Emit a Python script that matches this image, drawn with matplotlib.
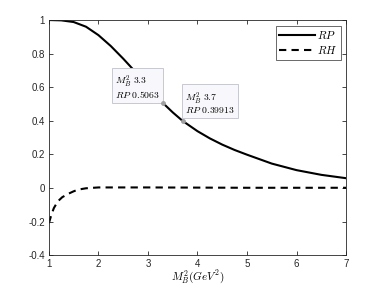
import numpy as np
import matplotlib
matplotlib.use('Agg')
from matplotlib import pyplot as plt

plt.rcParams['font.family'] = ['Liberation Sans', 'DejaVu Sans']
plt.rcParams['mathtext.fontset'] = 'cm'

# values
m2 = [1.0, 1.25, 1.5, 1.75, 2.0, 2.25, 2.5, 2.75, 3.0, 3.3, 3.5, 3.7,
      4.0, 4.25, 4.5, 4.75, 5.0, 5.5, 6.0, 6.5, 7.0]
rp = [1.0, 0.998, 0.988, 0.96, 0.91, 0.845, 0.77, 0.69, 0.605, 0.5063, 0.45, 0.39913,
      0.338, 0.295, 0.258, 0.226, 0.198, 0.145, 0.106, 0.078, 0.058]
m2_rh = [1.0, 1.05, 1.1, 1.18, 1.27, 1.39, 1.5, 1.59, 1.75, 2.0, 3.0, 4.0, 5.0, 6.0, 7.0]
rh = [-0.21, -0.16, -0.12, -0.08, -0.055, -0.035, -0.02, -0.01, -0.002, 0.003, 0.003, 0.002, 0.001, 0.001, 0.001]
tips_x = [3.3, 3.7]
tips_y = [0.5063, 0.39913]

fig = plt.figure(figsize=(3.82, 2.86), dpi=100)
ax = fig.add_axes([0.128, 0.108, 0.778, 0.822])

ax.plot(m2, rp, color='black', lw=1.5, label='$RP$')
ax.plot(m2_rh, rh, color='black', lw=1.5, ls=(0, (3.5, 2.5)), label='$RH$')

ax.set_xlim(1, 7)
ax.set_ylim(-0.4, 1)
ax.set_xticks(range(1, 8))
ax.set_yticks([-0.4, -0.2, 0, 0.2, 0.4, 0.6, 0.8, 1])
ax.set_yticklabels(['-0.4', '-0.2', '0', '0.2', '0.4', '0.6', '0.8', '1'])
ax.tick_params(direction='in', length=3, width=0.6, labelsize=7, colors='#262626',
               top=True, right=True, pad=3)
for s in ax.spines.values():
    s.set_linewidth(0.6)
    s.set_color('#262626')
ax.set_xlabel('$M_B^2(GeV^2)$', fontsize=8, labelpad=-1)

# data tips
ax.plot(tips_x, tips_y, 'o', ms=2.5, color='#a0a0a0', zorder=5)
bbox = dict(boxstyle='square,pad=0.3', fc='#f8f8fc', ec='#c8c8d0', lw=0.7)
ax.annotate(r'$M_B^2\ \mathrm{3.3}$' + '\n' + r'$RP\ \mathrm{0.5063}$', (tips_x[0], tips_y[0]),
            xytext=(-2, 2), textcoords='offset points', ha='right', va='bottom',
            multialignment='left', fontsize=7, bbox=bbox, linespacing=0.85)
ax.annotate(r'$M_B^2\ \mathrm{3.7}$' + '\n' + r'$RP\ \mathrm{0.39913}$', (tips_x[1], tips_y[1]),
            xytext=(2, 4), textcoords='offset points', ha='left', va='bottom',
            multialignment='left', fontsize=7, bbox=bbox, linespacing=0.85)

leg = ax.legend(loc='upper right', fontsize=8, frameon=True, fancybox=False,
                edgecolor='#262626', handlelength=3.2, handletextpad=0.2,
                borderpad=0.3, labelspacing=0.3, borderaxespad=0.5)
leg.get_frame().set_linewidth(0.6)

fig.savefig('out.png', dpi=100)
